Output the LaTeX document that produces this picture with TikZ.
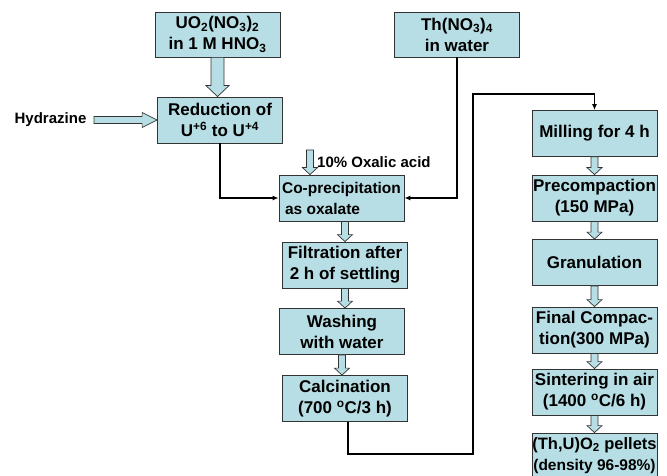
\documentclass[tikz,border=0pt]{standalone}
\usepackage{fontspec}
\setmainfont{Liberation Sans}
\usetikzlibrary{calc,arrows.meta}
\definecolor{boxfill}{RGB}{183,222,228}
\newcommand{\vblk}[5]{% from, to, shaft half, head half, head length
  \draw[blk] let \p1=(#1), \p2=(#2) in
    (\x1-#3pt,\y1) -- (\x1+#3pt,\y1) -- (\x1+#3pt,\y2+#5pt) -- (\x1+#4pt,\y2+#5pt)
    -- (\x1,\y2) -- (\x1-#4pt,\y2+#5pt) -- (\x1-#3pt,\y2+#5pt) -- cycle;}
\newcommand{\hblk}[5]{% from (left), to (right), shaft half, head half, head length
  \draw[blk] let \p1=(#1), \p2=(#2) in
    (\x1,\y1-#3pt) -- (\x2-#5pt,\y1-#3pt) -- (\x2-#5pt,\y1-#4pt) -- (\x2,\y1)
    -- (\x2-#5pt,\y1+#4pt) -- (\x2-#5pt,\y1+#3pt) -- (\x1,\y1+#3pt) -- cycle;}
\begin{document}
\begin{tikzpicture}[x=1pt,y=-1pt,
  box/.style={draw=black!80, line width=0.8pt, fill=boxfill, minimum width=125pt,
    minimum height=46pt, inner sep=0pt, align=center,
    font=\fontsize{17}{21}\selectfont\bfseries},
  conn/.style={line width=1.2pt, -{Latex[length=6pt,width=5pt]}},
  blk/.style={draw=black!80, line width=0.7pt, fill=boxfill},
  lbl/.style={font=\fontsize{15}{18}\selectfont\bfseries, inner sep=0pt}]
\useasboundingbox (0,0) rectangle (667,476);

% left chain
\node[box, minimum height=45pt] (uo) at (217.5,34.5) {UO\textsubscript{2}(NO\textsubscript{3})\textsubscript{2}\\in 1 M HNO\textsubscript{3}};
\node[box] (red) at (220,120) {Reduction of\\U\textsuperscript{+6} to U\textsuperscript{+4}};
\node[box, minimum height=45pt] (th) at (457,34.5) {Th(NO\textsubscript{3})\textsubscript{4}\\in water};
\node[box, align=left, font=\fontsize{15.5}{21}\selectfont\bfseries] (cop) at (341.5,198) {Co-precipitation\\\hspace{3pt}as oxalate};
\node[box] (fil) at (345,265) {Filtration after\\2 h of settling};
\node[box] (wash) at (342,331.5) {Washing\\with water};
\node[box] (calc) at (345,398.5) {Calcination\\(700 \textsuperscript{o}C/3 h)};

% right chain
\node[box] (mill) at (594.5,133.5) {Milling for 4 h};
\node[box] (pre) at (594.5,198) {Precompaction\\(150 MPa)};
\node[box] (gran) at (594.5,262.5) {Granulation};
\node[box] (fin) at (594.5,330) {Final Compac-\\tion(300 MPa)};
\node[box] (sin) at (594.5,392) {Sintering in air\\(1400 \textsuperscript{o}C/6 h)};
\node[box, minimum height=45pt, font=\fontsize{16.5}{21}\selectfont\bfseries] (pel) at (594.5,455.5) {(Th,U)O\textsubscript{2} pellets\\{\fontsize{15.5}{21}\selectfont(density 96-98\%)}};

% labels
\node[lbl] (hyd) at (50.5,120) {Hydrazine};
\coordinate (hs) at (94,120);
\coordinate (ox) at (310,150);
\node[lbl, anchor=west] (oxl) at (317,162) {10\% Oxalic acid};

% block arrows
\vblk{uo.south}{red.north}{6.5}{11.5}{11}
\hblk{hs}{red.west}{3.5}{7.5}{15}
\vblk{ox}{ox |- cop.north}{3.5}{7.5}{7}
\vblk{cop.south -| fil.north}{fil.north}{3.5}{7.5}{7}
\vblk{fil.south}{wash.north -| fil.south}{3.5}{7.5}{7}
\vblk{wash.south}{calc.north -| wash.south}{3.5}{7.5}{7}
\vblk{mill.south}{pre.north}{3.5}{7.5}{7}
\vblk{pre.south}{gran.north}{3.5}{7.5}{7}
\vblk{gran.south}{fin.north}{3.5}{7.5}{7}
\vblk{fin.south}{sin.north}{3.5}{7.5}{7}
\vblk{sin.south}{pel.north}{3.5}{7.5}{7}

% line connectors
\draw[conn] (red.south) |- (cop.west);
\draw[conn] (th.south) |- (cop.east);
\coordinate (la) at (473,454);
\coordinate (lb) at (473,94);
\draw[conn] ($(calc.south)+(3,0)$) |- (la) -- (lb) -| (mill.north);
\end{tikzpicture}
\end{document}
